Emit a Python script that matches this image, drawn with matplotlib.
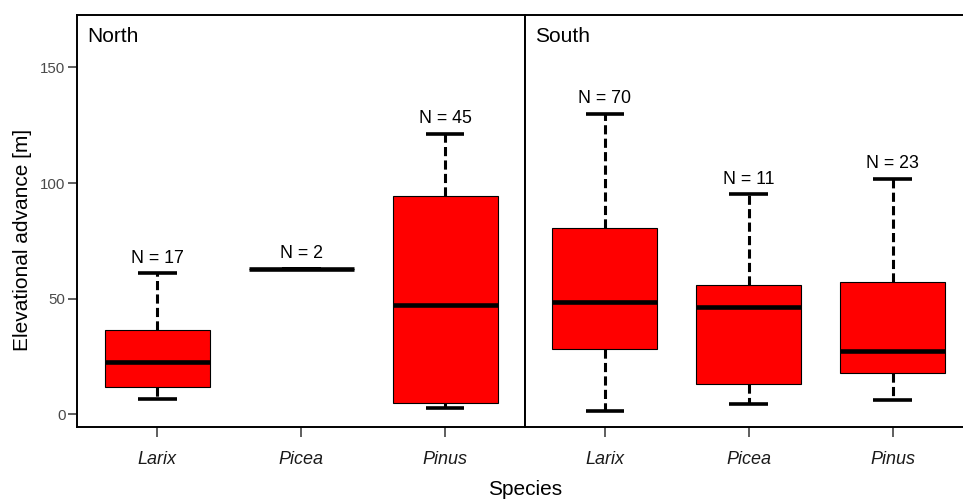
import matplotlib
matplotlib.use("Agg")
import matplotlib.pyplot as plt

plt.rcParams['font.family'] = ['Liberation Sans', 'DejaVu Sans']

species = ['Larix', 'Picea', 'Pinus']
regions = ['North', 'South']

# box statistics, per region, in species order
n_obs = {'North': [17, 2, 45], 'South': [70, 11, 23]}
whisk_low = {'North': [6.6, 63.0, 2.6], 'South': [1.4, 4.6, 6.1]}
q1 = {'North': [11.7, 63.0, 4.8], 'South': [28.4, 13.1, 17.7]}
median = {'North': [22.5, 63.0, 47.3], 'South': [48.4, 46.4, 27.4]}
q3 = {'North': [36.7, 63.0, 94.4], 'South': [80.4, 55.8, 57.3]}
whisk_high = {'North': [61.0, 63.0, 121.3], 'South': [130.0, 95.1, 101.9]}

W, H = 963, 501
fig = plt.figure(figsize=(W / 100, H / 100), dpi=100)

x0_px = [77.3, 525.0]
ax_w = 447.7
ax_bottom = (H - 426.7) / H
ax_height = (426.7 - 15) / H

for i, reg in enumerate(regions):
    ax = fig.add_axes([x0_px[i] / W, ax_bottom, ax_w / W, ax_height])
    stats = []
    for j, sp in enumerate(species):
        stats.append(dict(whislo=whisk_low[reg][j], q1=q1[reg][j], med=median[reg][j],
                          q3=q3[reg][j], whishi=whisk_high[reg][j], fliers=[]))
    ax.bxp(stats, positions=[1, 2, 3], widths=0.73, capwidths=0.27,
           patch_artist=True, showfliers=False,
           boxprops=dict(facecolor='#ff0000', edgecolor='black', linewidth=0.8),
           medianprops=dict(color='black', linewidth=3.3, solid_capstyle='butt'),
           whiskerprops=dict(color='black', linewidth=2.2, linestyle=(0, (3, 1.4))),
           capprops=dict(color='black', linewidth=2.6, solid_capstyle='butt'))

    for j in range(3):
        ax.annotate(f"N = {n_obs[reg][j]}", xy=(j + 1, whisk_high[reg][j]),
                    xytext=(0, 7.5), textcoords='offset points',
                    ha='center', va='baseline', fontsize=12.8, color='black')

    ax.set_xlim(0.444, 3.556)
    ax.set_ylim(-5.3, 172.6)
    ax.set_xticks([1, 2, 3])
    ax.set_xticklabels(species, fontstyle='italic', fontsize=13, color='#1a1a1a')
    ax.tick_params(axis='x', length=7, width=1.1, pad=10.5, color='#333333')
    for s in ax.spines.values():
        s.set_linewidth(1.4)
        s.set_color('black')
    if i == 0:
        ax.set_yticks([0, 50, 100, 150])
        ax.tick_params(axis='y', length=6.5, width=1.1, pad=2, labelsize=10.8,
                       labelcolor='#4a4a4a', color='#333333')
    else:
        ax.set_yticks([])
    ax.text(0.022, 0.935, reg, transform=ax.transAxes, fontsize=15,
            ha='left', va='baseline')

fig.text(23 / W, (H - 240) / H, 'Elevational advance [m]', rotation=90,
         ha='center', va='center', fontsize=15)
fig.text(525 / W, 0.004, 'Species', ha='center', va='bottom', fontsize=15)

fig.savefig('out.png', dpi=100)
